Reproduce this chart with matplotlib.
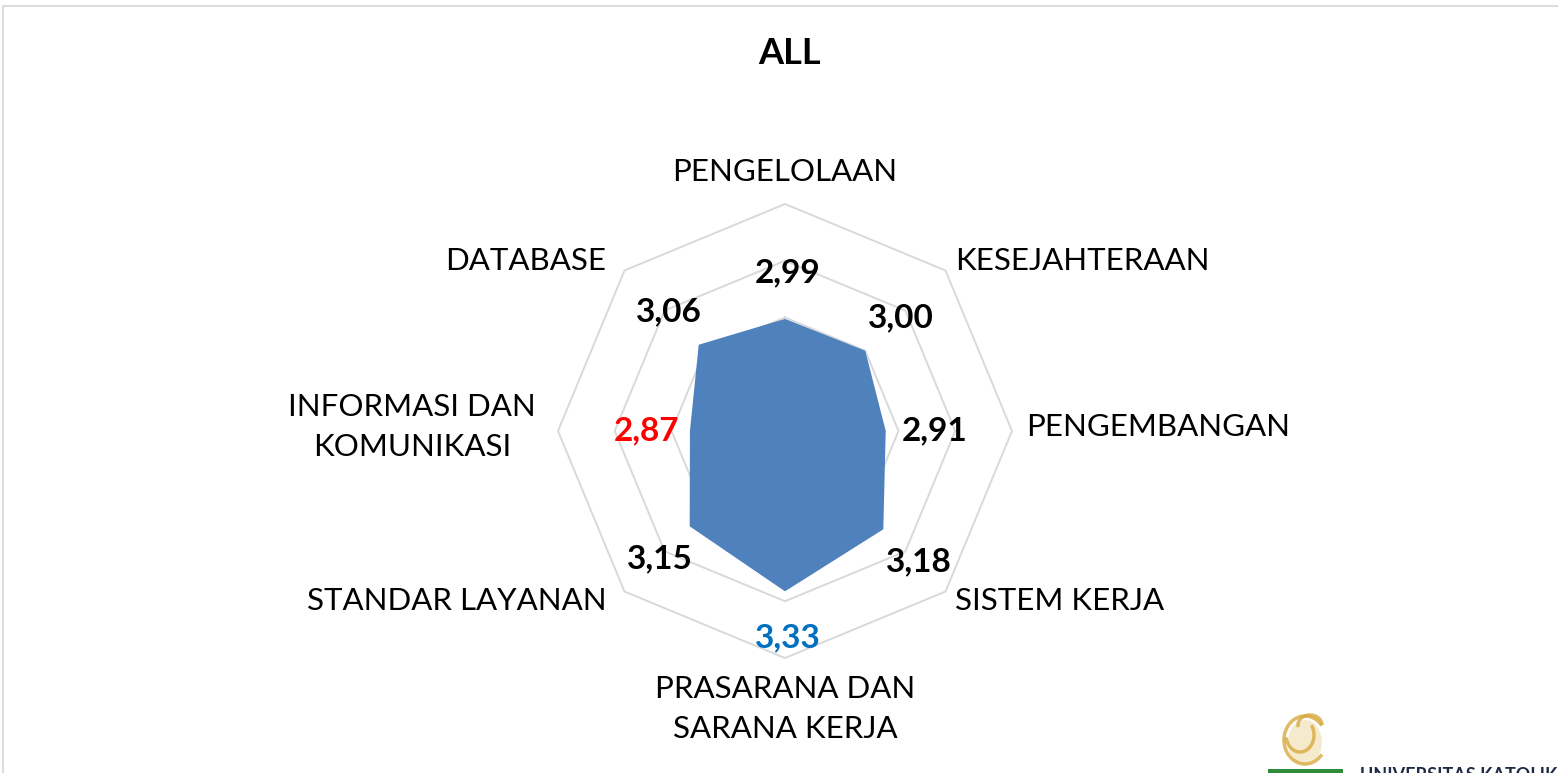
import numpy as np
import matplotlib

matplotlib.use("Agg")
import matplotlib.pyplot as plt
from matplotlib.patches import Rectangle, Arc, Ellipse

# ----------------- DATA -----------------
TITLE = "ALL"
CATEGORIES = [
    "PENGELOLAAN",
    "KESEJAHTERAAN",
    "PENGEMBANGAN",
    "SISTEM KERJA",
    "PRASARANA DAN\nSARANA KERJA",
    "STANDAR LAYANAN",
    "INFORMASI DAN\nKOMUNIKASI",
    "DATABASE",
]
VALUES = [2.99, 3.00, 2.91, 3.18, 3.33, 3.15, 2.87, 3.06]
VALUE_COLORS = ["black", "black", "black", "black", "#0070C0", "black", "#FF0000", "black"]
R_MIN, R_MAX = 2.2, 3.8
RINGS = [2.6, 3.0, 3.4, 3.8]
# ----------------------------------------

FILL = "#4F81BD"
GRID = "#D9D9D9"
FONT = "Lato"

W, H, DPI = 1558, 773, 100
fig = plt.figure(figsize=(W / DPI, H / DPI), dpi=DPI)
fig.patch.set_facecolor("white")

# chart area border (runs off the right and bottom edge)
fig.add_artist(Rectangle((3 / W, -0.05), 1.2, 1 - 6 / H + 0.05, transform=fig.transFigure,
                         fill=False, edgecolor=GRID, linewidth=1.3))

# square polar axes: centre at (785, 431) px, radius 227 px
cx, cy, rad = 785, 431, 227
ax = fig.add_axes([(cx - rad) / W, (H - cy - rad) / H, 2 * rad / W, 2 * rad / H],
                  projection="polar")
ax.set_theta_zero_location("N")
ax.set_theta_direction(-1)
ax.set_ylim(R_MIN, R_MAX)
ax.grid(False)
ax.set_xticks([])
ax.set_yticks([])
ax.spines["polar"].set_visible(False)
ax.patch.set_alpha(0)

n = len(CATEGORIES)
theta = np.arange(n) * 2 * np.pi / n
theta_closed = np.append(theta, theta[0])

# octagon gridlines
for lvl in RINGS:
    ax.plot(theta_closed, [lvl] * (n + 1), color=GRID, linewidth=1.4, zorder=1, clip_on=False)

# filled series
vals_closed = VALUES + VALUES[:1]
ax.fill(theta_closed, vals_closed, color=FILL, zorder=2, linewidth=0)

# value labels, pushed outward from each point
for t, v, c in zip(theta, VALUES, VALUE_COLORS):
    ax.annotate(f"{v:.2f}".replace(".", ","), xy=(t, v),
                xytext=(46 * np.sin(t) + 3, 46 * np.cos(t)), textcoords="offset pixels",
                ha="center", va="center", fontsize=24, fontweight="bold", color=c,
                family=FONT, annotation_clip=False, zorder=3)

# category labels outside the outer ring
for t, name in zip(theta, CATEGORIES):
    s, co = np.sin(t), np.cos(t)
    if abs(s) < 1e-6:
        ha = "center"
        va = "bottom" if co > 0 else "top"
        off = (0, 18 if co > 0 else -17)
    else:
        ha = "left" if s > 0 else "right"
        va = "center"
        off = (14 * s - (8 if s < 0 else 0), 14 * co + (4 if abs(co) < 1e-6 else 0))
    ax.annotate(name, xy=(t, R_MAX), xytext=off, textcoords="offset pixels",
                ha=ha, va=va, multialignment="center", fontsize=22.5, color="black",
                family=FONT, linespacing=1.5, annotation_clip=False)

fig.text(790 / W, 1 - 54 / H, TITLE, ha="center", va="center", fontsize=26,
         fontweight="bold", family=FONT)

# logo in the bottom-right corner, cut off by the edge
fig.add_artist(Rectangle((1268 / W, 0), 75 / W, 4 / H, transform=fig.transFigure,
                         color="#2E8B3A", linewidth=0))
fig.add_artist(Ellipse((1305 / W, 1 - 742 / H), 34 / W, 44 / H, transform=fig.transFigure,
                       color="#F3E2B8", linewidth=0, alpha=0.7))
for (x, y, w, h, a1, a2) in [(1305, 740, 42, 48, 60, 300), (1300, 735, 28, 34, 200, 420),
                             (1310, 725, 24, 20, 0, 200)]:
    fig.add_artist(Arc((x / W, 1 - y / H), w / W, h / H, theta1=a1, theta2=a2,
                       transform=fig.transFigure, color="#D9A940", linewidth=2.5, alpha=0.8))
fig.text(1360 / W, 1 - 767 / H, "UNIVERSITAS KATOLIK I", ha="left", va="top",
         fontsize=13, fontweight="bold", color="#1F2A44", family=FONT)

fig.savefig("out.png", dpi=DPI, facecolor="white")
